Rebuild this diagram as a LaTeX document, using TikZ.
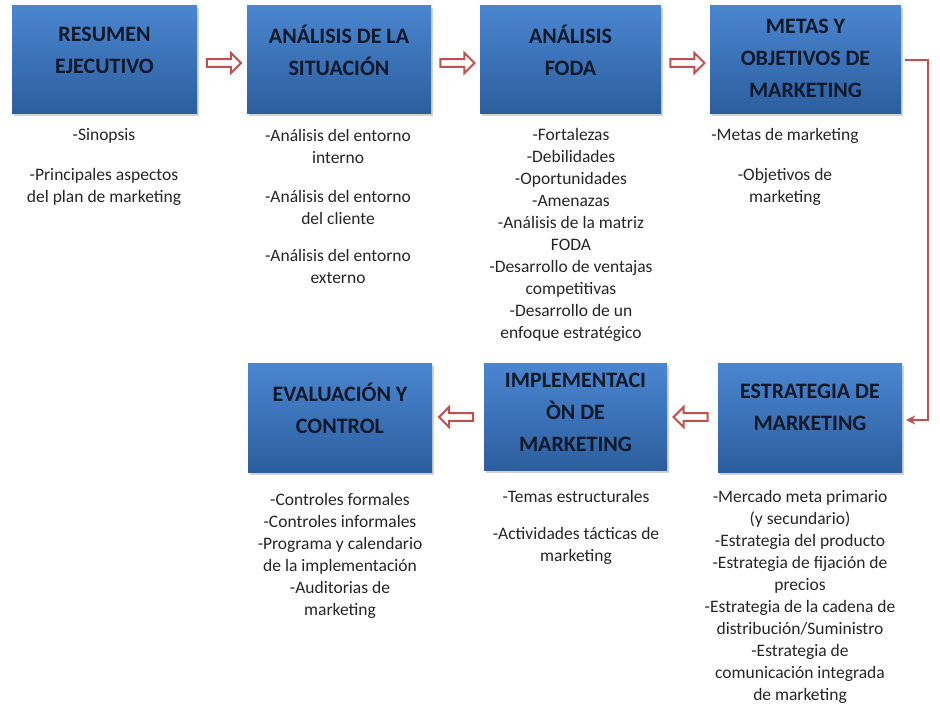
\documentclass[tikz,border=0pt]{standalone}
\usepackage{fontspec}
\setmainfont{Carlito}
\usetikzlibrary{shapes.arrows,calc,shadows,arrows.meta}
\definecolor{boxtop}{HTML}{4A86D0}
\definecolor{boxbot}{HTML}{2C5E9E}
\definecolor{arr}{HTML}{C0504D}
\definecolor{ttl}{HTML}{111827}
\tikzset{
  boxstyle/.style={rectangle, top color=boxtop, bottom color=boxbot, draw=none,
    drop shadow={shadow xshift=2pt, shadow yshift=-3pt, opacity=0.35}, inner sep=0pt},
  ttlstyle/.style={align=center, font=\fontsize{22}{32}\selectfont\bfseries, text=ttl, inner sep=0pt},
  txt/.style={align=center, font=\fontsize{17.5}{22}\selectfont, text=black!85, anchor=north, inner sep=0pt},
  hollow/.style={single arrow, draw=arr, line width=2pt, fill=white, minimum height=34pt,
    minimum width=20pt, single arrow head extend=4pt, inner sep=1.5pt},
  link/.style={draw=arr, line width=2.5pt, -{Stealth[length=9pt,width=9pt]}}
}
\begin{document}
\begin{tikzpicture}[x=1pt,y=-1pt]
\fill[white] (0,0) rectangle (940,713);
\useasboundingbox (0,0) rectangle (940,713);
\node[boxstyle, minimum width=185pt, minimum height=108pt] (b1) at (104.5,59) {};
\node[boxstyle, minimum width=184pt, minimum height=108pt] (b2) at (339,59) {};
\node[boxstyle, minimum width=181pt, minimum height=108pt] (b3) at (570.5,59) {};
\node[boxstyle, minimum width=191pt, minimum height=108pt] (b4) at (805.5,59) {};
\node[boxstyle, minimum width=184pt, minimum height=109pt] (b5) at (810,417.5) {};
\node[boxstyle, minimum width=183pt, minimum height=107pt] (b6) at (575.5,416.5) {};
\node[boxstyle, minimum width=184pt, minimum height=109pt] (b7) at (340,417.5) {};

\node[ttlstyle] (h1) at ($(b1.center)+(0,-9)$) {RESUMEN\\EJECUTIVO};
\node[ttlstyle] (h2) at ($(b2.center)+(0,-9)$) {ANÁLISIS DE LA\\SITUACIÓN};
\node[ttlstyle] (h3) at ($(b3.center)+(0,-9)$) {ANÁLISIS\\FODA};
\node[ttlstyle] (h4) at ($(b4.center)+(0,-1)$) {METAS Y\\OBJETIVOS DE\\MARKETING};
\node[ttlstyle] (h5) at ($(b5.center)+(0,-10)$) {ESTRATEGIA DE\\MARKETING};
\node[ttlstyle] (h6) at ($(b6.center)+(0,-4)$) {IMPLEMENTACI\\ÒN DE\\MARKETING};
\node[ttlstyle] (h7) at ($(b7.center)+(0,-9)$) {EVALUACIÓN Y\\CONTROL};

\node[hollow] (a1) at ($(b1.east)!0.5!(b2.west)+(0,4)$) {};
\node[hollow] (a2) at ($(b2.east)!0.5!(b3.west)+(0,4)$) {};
\node[hollow] (a3) at ($(b3.east)!0.5!(b4.west)+(0,4)$) {};
\node[hollow, shape border rotate=180] (a4) at ($(b5.west)!0.5!(b6.east)$) {};
\node[hollow, shape border rotate=180] (a5) at ($(b6.west)!0.5!(b7.east)$) {};

\coordinate (c1) at (928,60);
\coordinate (c2) at (928,420);
\draw[link] ($(b4.east)+(4,1)$) -- (c1) -- (c2) -- ($(b5.east)+(4,2.5)$);

\node[txt] (t1) at (104,128) {-Sinopsis\\[18pt]-Principales aspectos\\del plan de marketing};
\node[txt] (t2) at (338,129) {-Análisis del entorno\\interno\\[17pt]-Análisis del entorno\\del cliente\\[15pt]-Análisis del entorno\\externo};
\node[txt] (t3) at (571,128) {-Fortalezas\\-Debilidades\\-Oportunidades\\-Amenazas\\-Análisis de la matriz\\FODA\\-Desarrollo de ventajas\\competitivas\\-Desarrollo de un\\enfoque estratégico};
\node[txt] (t4) at (785,128) {-Metas de marketing\\[18pt]-Objetivos de\\marketing};
\node[txt] (t5) at (800,490) {-Mercado meta primario\\(y secundario)\\-Estrategia del producto\\-Estrategia de fijación de\\precios\\-Estrategia de la cadena de\\distribución/Suministro\\-Estrategia de\\comunicación integrada\\de marketing};
\node[txt] (t6) at (576,490) {-Temas estructurales\\[15pt]-Actividades tácticas de\\marketing};
\node[txt] (t7) at (340,493) {-Controles formales\\-Controles informales\\-Programa y calendario\\de la implementación\\-Auditorias de\\marketing};
\end{tikzpicture}
\end{document}
